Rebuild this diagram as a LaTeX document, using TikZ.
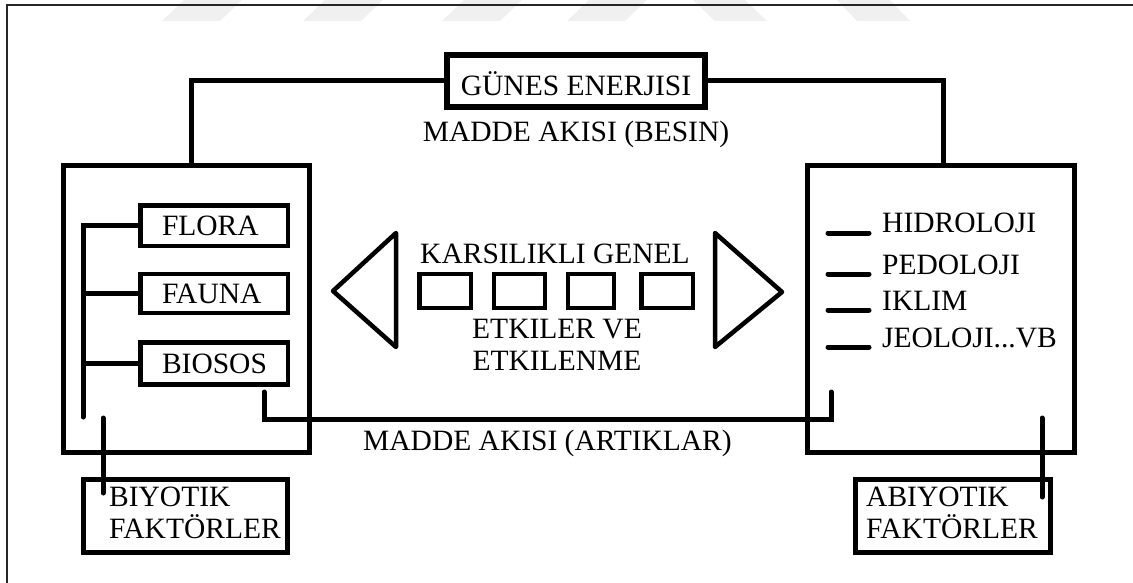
\documentclass[tikz,border=0pt]{standalone}
\usepackage{fontspec}
\setmainfont{Liberation Serif}
\begin{document}
\begin{tikzpicture}[x=1pt,y=-1pt,
  txt/.style={font=\fontsize{29.5}{34}\selectfont, inner sep=0pt},
  bigbox/.style={draw, line width=5pt, inner sep=0pt},
  smallbox/.style={draw, line width=4.5pt, inner sep=0pt, font=\fontsize{29.5}{34}\selectfont, text height=19.5pt, text depth=0pt},
  conn/.style={line width=5pt, line cap=round},
  tri/.style={line width=4.5pt, line join=round},
  wm/.style={fill=black!6, draw=none}
]
\useasboundingbox (0,0) rectangle (1133,583);
% faint watermark
\fill[wm] (162,21) -- (184,0) -- (242,0) -- (220,21) -- cycle;
\fill[wm] (303,21) -- (325,0) -- (383,0) -- (361,21) -- cycle;
\fill[wm] (442,21) -- (464,0) -- (522,0) -- (500,21) -- cycle;
\fill[wm] (567,21) -- (589,0) -- (647,0) -- (625,21) -- cycle;
\fill[wm] (693,0) -- (745,0) -- (767,21) -- (715,21) -- cycle;
\fill[wm] (837,0) -- (890,0) -- (910,21) -- (857,21) -- cycle;
% outer frame
\draw[line width=2pt, black!85] (1133,5) -- (7,5) -- (7,583);

% main boxes
\node[bigbox, minimum width=246pt, minimum height=287pt] (leftbox) at (186.5,309) {};
\node[bigbox, minimum width=267pt, minimum height=287pt] (rightbox) at (941,309) {};
\node[smallbox, line width=6pt, minimum width=258pt, minimum height=52pt] (gunes) at (576,81) {\raisebox{-5pt}{GÜNES ENERJISI}};

% left inner boxes
\node[smallbox, minimum width=147.5pt, minimum height=40.5pt] (flora) at (214,225.5) {\makebox[104pt][l]{FLORA}};
\node[smallbox, minimum width=147.5pt, minimum height=39pt] (fauna) at (214,293.5) {\makebox[104pt][l]{FAUNA}};
\node[smallbox, minimum width=147.5pt, minimum height=42pt] (biosos) at (214,363.5) {\makebox[104pt][l]{BIOSOS}};

% bottom boxes
\node[bigbox, minimum width=204pt, minimum height=73pt] (biyotik) at (185.5,516) {};
\node[bigbox, minimum width=195pt, minimum height=73pt] (abiyotik) at (953,516) {};
\node[txt, anchor=base west] (biyotik1) at (109,506) {BIYOTIK};
\node[txt, anchor=base west] (biyotik2) at (109,538) {FAKTÖRLER};
\node[txt, anchor=base west] (abiyotik1) at (866,506) {ABIYOTIK};
\node[txt, anchor=base west] (abiyotik2) at (866,538) {FAKTÖRLER};

% middle row of small boxes and triangles
\node[smallbox, minimum width=51.5pt, minimum height=34pt] (m1) at (445,291) {};
\node[smallbox, minimum width=51pt, minimum height=34pt] (m2) at (519.5,291) {};
\node[smallbox, minimum width=46pt, minimum height=34pt] (m3) at (591,291) {};
\node[smallbox, minimum width=51.5pt, minimum height=34pt] (m4) at (667,291) {};
\draw[tri] (333,291) -- (396,233) -- (396,347) -- cycle;
\draw[tri] (782,292) -- (715,233) -- (715,347) -- cycle;
\node[txt, anchor=base] (karsi) at (555,263) {KARSILIKLI GENEL};
\node[txt, anchor=base] (etk1) at (557,338) {ETKILER VE};
\node[txt, anchor=base] (etk2) at (557,370) {ETKILENME};

% labels of matter flow
\node[txt, anchor=base] (besin) at (576,142) {MADDE AKISI (BESIN)};
\node[txt, anchor=base west] (artik) at (363,450) {MADDE AKISI (ARTIKLAR)};

% right box items
\node[txt, anchor=base west] (hid) at (882,233) {HIDROLOJI};
\node[txt, anchor=base west] (ped) at (882,274) {PEDOLOJI};
\node[txt, anchor=base west] (ikl) at (882,310) {IKLIM};
\node[txt, anchor=base west] (jeo) at (882,347) {JEOLOJI...VB};
\foreach \n in {hid,ped,ikl,jeo}
  \draw[conn] ([xshift=-13pt]\n.base west) -- ++(-41,0);

% connectors
\draw[line width=5pt] (gunes.west) -| ([xshift=4.5pt]leftbox.north);
\draw[line width=5pt] (gunes.east) -| ([xshift=2pt]rightbox.north);

\coordinate (treeend) at (83,417);
\draw[conn] (flora.west) -| (treeend);
\draw[line width=5pt] (fauna.west) -- (fauna.west -| treeend);
\draw[line width=5pt] (biosos.west) -- (biosos.west -| treeend);

\coordinate (artA) at (264,392);
\coordinate (artB) at (831,392);
\draw[conn] (artA) -- ++(0,27) -| (artB);

\coordinate (bioA) at (103,418);
\draw[conn] (bioA) -- ++(0,75);
\coordinate (abA) at (1042,418);
\draw[conn] (abA) -- ++(0,79);
\end{tikzpicture}
\end{document}
